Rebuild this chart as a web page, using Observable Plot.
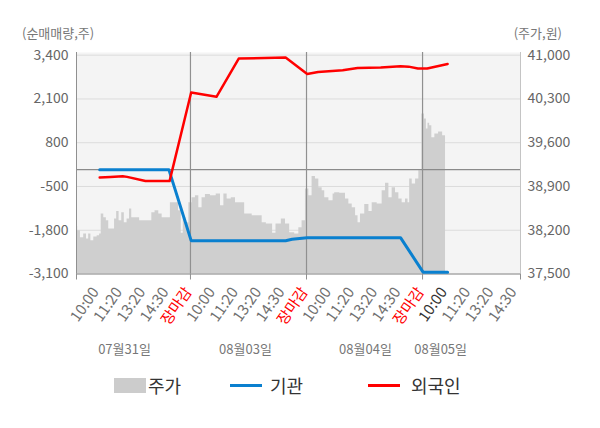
<!DOCTYPE html>
<html><head><meta charset="utf-8">
<script src="https://cdn.jsdelivr.net/npm/d3@7"></script>
<script src="https://cdn.jsdelivr.net/npm/@observablehq/plot@0.6"></script>
<style>
body{margin:0;background:#fff;font-family:"Noto Sans CJK KR","Noto Sans",sans-serif;}
#wrap{position:relative;width:600px;height:428px;overflow:hidden;}
.t{position:absolute;font-size:13px;color:#777;line-height:14px;white-space:nowrap;}
.lg{position:absolute;font-size:18px;color:#333;line-height:18px;white-space:nowrap;}
.sw{position:absolute;}
</style></head><body><div id="wrap"></div>
<script>
// ---- data ----
const days = ["07월31일","08월03일","08월04일","08월05일"];
const dayLabelSlot = [2.16, 7.37, 12.54, 15.78];
const sessionLabels = ["10:00","11:20","13:20","14:30","장마감"];
const yTicks = [-3100,-1800,-500,800,2100,3400];
const leftTickLabels = ["-3,100","-1,800","-500","800","2,100","3,400"];
const priceTickLabels = ["37,500","38,200","38,900","39,600","40,300","41,000"];
const priceMin = 37500, priceMax = 41000;

// [slot, price(원)]
const pricePoints = [
[0.09,38260],[0.19,38190],[0.33,38080],[0.47,38140],[0.57,38060],[0.66,38140],[0.76,38030],[0.91,38090],
[1.05,38110],[1.12,38140],[1.19,38460],[1.34,38400],[1.41,38350],[1.55,38220],[1.69,38220],[1.77,38380],
[1.87,38500],[1.98,38350],[2.10,38480],[2.20,38320],[2.34,38380],[2.41,38540],[2.53,38400],[2.70,38400],
[2.92,38350],[3.28,38350],[3.39,38480],[3.56,38510],[3.71,38460],[3.85,38400],[4.06,38400],[4.21,38640],
[4.40,38640],[4.57,38510],[4.64,38150],[4.74,38400],[4.86,38320],[5.00,38640],[5.14,38720],[5.29,38750],
[5.43,38560],[5.57,38720],[5.72,38770],[6.00,38750],[6.22,38780],[6.37,38590],[6.51,38780],[6.65,38700],
[6.87,38720],[7.01,38640],[7.23,38640],[7.44,38460],[7.59,38460],[7.73,38430],[8.02,38430],[8.16,38320],
[8.38,38300],[8.52,38300],[8.56,38150],[8.81,38300],[9.02,38380],[9.17,38300],[9.38,38160],[9.60,38140],
[9.74,38240],[9.88,38350],[10.03,38860],[10.17,38750],[10.31,39060],[10.46,39020],[10.60,38880],[10.75,38830],
[10.82,38720],[11.11,38670],[11.18,38780],[11.25,38800],[11.61,38790],[11.75,38700],[11.90,38620],[12.04,38560],
[12.19,38430],[12.25,38320],[12.40,38460],[12.62,38610],[12.76,38500],[12.90,38640],[13.19,38620],[13.33,38830],
[13.48,38950],[13.62,38720],[13.76,38880],[13.91,38800],[14.05,38700],[14.19,38640],[14.34,38700],[14.41,38640],
[14.48,39020],[14.63,38940],[14.77,39020],[14.91,39150],[15.03,40060],[15.13,39980],[15.20,39820],[15.27,39910],
[15.34,39870],[15.46,39680],[15.60,39740],[15.78,39770],[15.95,39710],[15.99,39710]
];
// [slot, 순매매량(주)]
const institutionPoints = [[1.09,0],[4.07,0],[5.03,-2110],[9.10,-2110],[9.38,-2070],[10.03,-2020],[14.05,-2020],[15.03,-3050],[16.08,-3050]];
const foreignPoints = [[1.09,-230],[1.55,-215],[2.08,-195],[2.27,-215],[3.06,-340],[4.10,-340],[5.03,2290],[6.12,2165],[7.08,3300],[9.10,3330],[10.03,2840],[10.50,2900],[11.56,2955],[12.20,3020],[13.20,3035],[14.05,3075],[14.40,3060],[14.80,3005],[15.20,3005],[16.08,3140]];

// ---- derived ----
const xDomain = [0.09, 19.22];
const yDomain = [-3100, 3480];
const toLeft = p => yTicks[0] + (p - priceMin) * (yTicks[yTicks.length-1] - yTicks[0]) / (priceMax - priceMin);
const timeTicks = days.flatMap((d, di) =>
  sessionLabels.slice(0, di === days.length - 1 ? 4 : 5).map((lab, k) => ({
    s: di * 5 + k + 1, label: lab,
    kind: lab === "장마감" ? "close" : (di === days.length - 1 && k === 0 ? "now" : "normal")
  })));
const dayBounds = [5, 10, 15];

const H = 362;
const tickText = {x: "s", text: "label", frameAnchor: "bottom", dy: 18, dx: 2, rotate: -55, textAnchor: "end", fontSize: 15};
const chart = Plot.plot({
  width: 600, height: H,
  marginTop: 52, marginLeft: 76, marginRight: 80, marginBottom: H - 273.5,
  x: {domain: xDomain},
  y: {domain: yDomain},
  style: {fontFamily: '"Noto Sans CJK KR","Noto Sans",sans-serif', fontSize: "14px", color: "#666", background: "transparent", overflow: "visible"},
  marks: [
    Plot.frame({fill: "#f4f4f4", stroke: null}),
    Plot.gridY(yTicks, {stroke: "#dcdcdc", strokeOpacity: 1}),
    Plot.areaY(pricePoints, {x: d => d[0], y1: yTicks[0], y2: d => toLeft(d[1]), fill: "#cfcfcf", curve: "step"}),
    Plot.ruleY([0], {stroke: "#8a8a8a", strokeWidth: 1.2}),
    Plot.ruleX(dayBounds, {stroke: "#909090", strokeWidth: 1.2}),
    Plot.ruleX([xDomain[0]], {stroke: "#909090"}),
    Plot.ruleX([xDomain[1]], {stroke: "#c4c4c4"}),
    Plot.ruleY([yTicks[0]], {stroke: "#909090"}),
    Plot.line(institutionPoints, {x: d => d[0], y: d => d[1], stroke: "#0a80cf", strokeWidth: 3}),
    Plot.line(foreignPoints, {x: d => d[0], y: d => d[1], stroke: "#ff0000", strokeWidth: 2.5}),
    Plot.axisY(yTicks, {anchor: "left", tickSize: 0, tickPadding: 8, tickFormat: d => leftTickLabels[yTicks.indexOf(d)], label: null, fontSize: 14, fill: "#666"}),
    Plot.axisY(yTicks, {anchor: "right", tickSize: 0, tickPadding: 7, tickFormat: d => priceTickLabels[yTicks.indexOf(d)], label: null, fontSize: 14, fill: "#666"}),
    Plot.axisX([xDomain[0], ...dayBounds, xDomain[1]], {tickSize: 6, stroke: "#909090", tickFormat: () => "", label: null}),
    Plot.text(timeTicks.filter(d => d.kind === "normal"), {...tickText, fill: "#707070"}),
    Plot.text(timeTicks.filter(d => d.kind === "close"), {...tickText, fill: "#ff0000"}),
    Plot.text(timeTicks.filter(d => d.kind === "now"), {...tickText, fill: "#333"}),
    Plot.text(days, {x: (d, i) => dayLabelSlot[i], text: d => d, frameAnchor: "bottom", dy: 80, fill: "#777", fontSize: 13})
  ]
});
const wrap = document.getElementById("wrap");
chart.style.position = "absolute"; chart.style.left = "0"; chart.style.top = "0";
wrap.appendChild(chart);

function add(cls, text, css) {
  const e = document.createElement("div"); e.className = cls; if (text) e.textContent = text;
  Object.assign(e.style, css); wrap.appendChild(e); return e;
}
add("t", "(순매매량,주)", {left: "22px", top: "26px"});
add("t", "(주가,원)", {right: "38px", top: "26px"});
// legend
add("sw", "", {left: "114px", top: "378px", width: "32px", height: "15px", background: "#cccccc"});
add("lg", "주가", {left: "148px", top: "376px"});
add("sw", "", {left: "230px", top: "384px", width: "32px", height: "3px", background: "#0a80cf"});
add("lg", "기관", {left: "270px", top: "376px"});
add("sw", "", {left: "368px", top: "384px", width: "32px", height: "3px", background: "#ff0000"});
add("lg", "외국인", {left: "411px", top: "376px"});
</script></body></html>
